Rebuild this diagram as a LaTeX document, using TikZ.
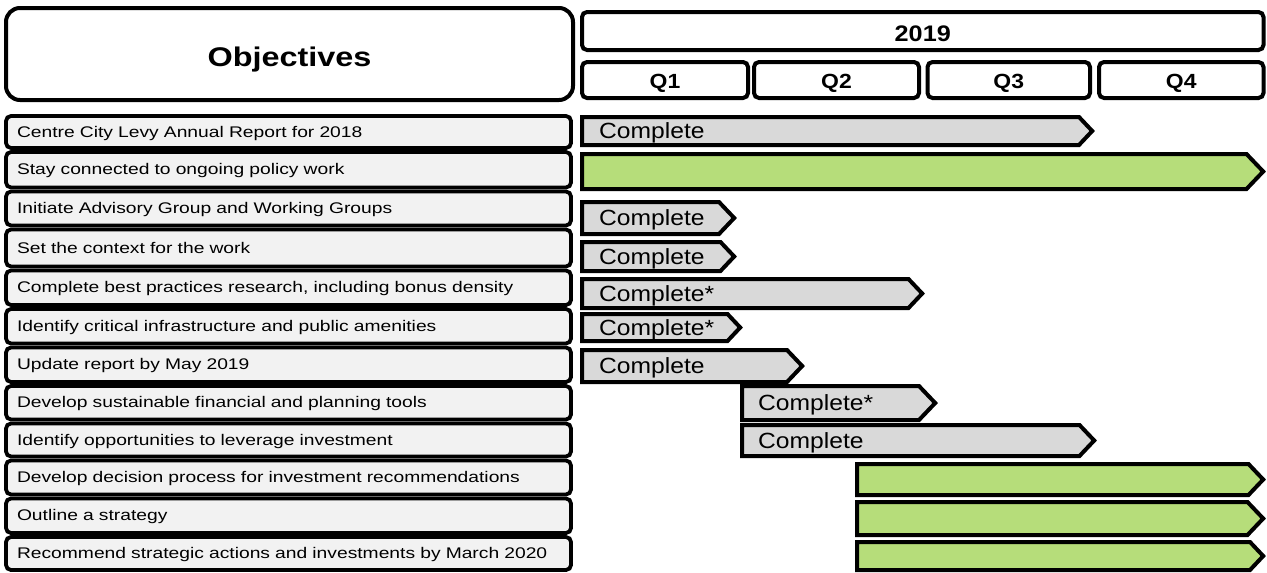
\documentclass[tikz,border=0pt]{standalone}
\usepackage{fontspec}
\setmainfont{Liberation Sans}
\newfontfamily\labf[FakeStretch=1.25]{Liberation Sans}
\newfontfamily\cmpf[FakeStretch=1.12]{Liberation Sans}
\newfontfamily\objf[FakeStretch=1.2]{Liberation Sans Bold}
\newfontfamily\hdrf[FakeStretch=1.12]{Liberation Sans Bold}
\definecolor{rowgray}{RGB}{242,242,242}
\definecolor{bargray}{RGB}{217,217,217}
\definecolor{bargreen}{RGB}{182,221,122}
\newcommand\ganttbar[5]{%
  \pgfmathsetmacro\bd{(#4-#2)/2}%
  \draw[barshape, fill=#5] (#1+2,#2+2) -- (#3-\bd,#2+2) -- (#3-2.8,{(#2+#4)/2}) -- (#3-\bd,#4-2) -- (#1+2,#4-2) -- cycle;}
\begin{document}
\begin{tikzpicture}[x=1pt,y=-1pt,
  hdrbox/.style={draw=black, line width=4pt, rounded corners=5pt, fill=white, inner sep=0pt, text height=#1, text depth=0pt},
  rowbox/.style={draw=black, line width=3.8pt, rounded corners=5pt, fill=rowgray, inner xsep=11pt, inner ysep=0pt, text width=543pt, align=left, text height=11pt, text depth=1pt, font=\labf\fontsize{15.4}{18}\selectfont},
  barshape/.style={draw=black, line width=4pt, line join=miter},
  bartext/.style={anchor=base west, inner sep=0pt, font=\cmpf\fontsize{22}{26}\selectfont}
]
\useasboundingbox (0,0) rectangle (1267,573);
% header
\node[hdrbox=25.5pt, rounded corners=14pt, minimum width=567pt, minimum height=92pt, font=\objf\fontsize{27}{32}\selectfont] (obj) at (289.5,54) {Objectives};
\node[hdrbox=20pt, minimum width=681.5pt, minimum height=38pt, font=\hdrf\fontsize{22.5}{26}\selectfont] (yr) at (922.75,31) {2019};
\node[hdrbox=17pt, minimum width=166pt, minimum height=36pt, font=\hdrf\fontsize{20.5}{24}\selectfont] (q1) at (665,80) {Q1};
\node[hdrbox=17pt, minimum width=165pt, minimum height=36pt, font=\hdrf\fontsize{20.5}{24}\selectfont] (q2) at (836.5,80) {Q2};
\node[hdrbox=17pt, minimum width=162.5pt, minimum height=36pt, font=\hdrf\fontsize{20.5}{24}\selectfont] (q3) at (1008.75,80) {Q3};
\node[hdrbox=17pt, minimum width=164.5pt, minimum height=36pt, font=\hdrf\fontsize{20.5}{24}\selectfont] (q4) at (1181.25,80) {Q4};
% rows
\node[rowbox, minimum height=32pt] (r1) at (288.5,132) {Centre City Levy Annual Report for 2018};
\node[rowbox, minimum height=35.5pt] (r2) at (288.5,169.75) {Stay connected to ongoing policy work};
\node[rowbox, minimum height=34pt] (r3) at (288.5,208.5) {Initiate Advisory Group and Working Groups};
\node[rowbox, minimum height=37pt] (r4) at (288.5,248) {Set the context for the work};
\node[rowbox, minimum height=34.5pt] (r5) at (288.5,287.75) {Complete best practices research, including bonus density};
\node[rowbox, minimum height=34.5pt] (r6) at (288.5,326.25) {Identify critical infrastructure and public amenities};
\node[rowbox, minimum height=34.5pt] (r7) at (288.5,364.75) {Update report by May 2019};
\node[rowbox, minimum height=33.5pt] (r8) at (288.5,402.75) {Develop sustainable financial and planning tools};
\node[rowbox, minimum height=33pt] (r9) at (288.5,440) {Identify opportunities to leverage investment};
\node[rowbox, minimum height=34pt] (r10) at (288.5,477.5) {Develop decision process for investment recommendations};
\node[rowbox, minimum height=34.5pt] (r11) at (288.5,515.75) {Outline a strategy};
\node[rowbox, minimum height=33pt] (r12) at (288.5,553.5) {Recommend strategic actions and investments by March 2020};
% bars
\ganttbar{580}{115}{1095}{147}{bargray}
\ganttbar{580}{152}{1266}{191}{bargreen}
\ganttbar{580}{200}{737}{236}{bargray}
\ganttbar{580}{240}{737}{273}{bargray}
\ganttbar{580}{277}{925}{310}{bargray}
\ganttbar{580}{312}{743}{343}{bargray}
\ganttbar{580}{348}{805}{384}{bargray}
\ganttbar{740}{384}{938}{422}{bargray}
\ganttbar{740}{423}{1097}{458}{bargray}
\ganttbar{855}{462}{1266}{497}{bargreen}
\ganttbar{855}{500}{1266}{537}{bargreen}
\ganttbar{855}{540}{1266}{572}{bargreen}
% bar labels
\node[bartext] (b1) at (599,138.9) {Complete};
\node[bartext] (b3) at (599,225.9) {Complete};
\node[bartext] (b4) at (599,264.4) {Complete};
\node[bartext] (b5) at (599,301.4) {Complete*};
\node[bartext] (b6) at (599,335.4) {Complete*};
\node[bartext] (b7) at (599,373.9) {Complete};
\node[bartext] (b8) at (758,410.9) {Complete*};
\node[bartext] (b9) at (758,448.4) {Complete};
\end{tikzpicture}
\end{document}
